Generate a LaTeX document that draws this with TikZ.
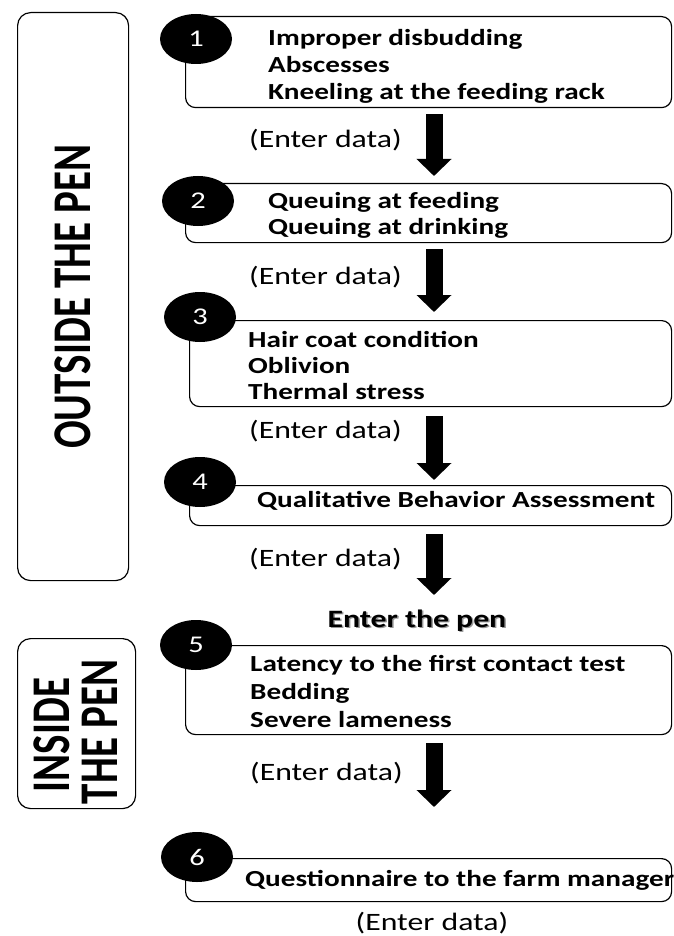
\documentclass[tikz,border=0pt]{standalone}
\usepackage{fontspec}
\setmainfont{Carlito}[FakeStretch=1.27]
\newfontfamily\sidefont{Carlito}
\usepackage{tikz}
\usetikzlibrary{arrows.meta, shapes.geometric, positioning}
\usepackage{xcolor}
\definecolor{shadowgray}{RGB}{150,150,150}

\begin{document}
\begin{tikzpicture}[
        x=1pt, y=-1pt,
        line join=round,
        stepbox/.style={draw=black, line width=1.2pt, rounded corners=10pt, fill=white, inner sep=0pt},
        sidebox/.style={draw=black, line width=1.2pt, rounded corners=13pt, inner sep=0pt},
        numdot/.style={shape=ellipse, fill=black, text=white, minimum width=72pt, minimum height=50pt, inner sep=0pt, font=\fontsize{24}{24}\selectfont},
        itemtext/.style={anchor=base west, align=left, inner sep=0pt, font=\fontsize{23}{#1}\selectfont\bfseries},
        itemtext/.default=26,
        datatext/.style={anchor=base west, inner sep=0pt, font=\fontsize{25}{25}\selectfont},
        pentext/.style={anchor=base, inner sep=0pt, font=\fontsize{25}{25}\selectfont\bfseries},
        sidelabel/.style={rotate=90, inner sep=0pt, font=\sidefont\fontsize{41}{41}\selectfont\bfseries},
        bigarrow/.style={line width=17pt, -{Triangle[width=34pt, length=17pt]}}
        ]

        \useasboundingbox (0,0) rectangle (673,936);

        %% Side boxes
        \node[sidebox, minimum width=111pt, minimum height=568pt, anchor=north west] (outside) at (17,12) {};
        \node[sidelabel] (outsidetext) at (outside.center) {\scalebox{1}[1.33]{OUTSIDE THE PEN}};
        \node[sidebox, minimum width=118pt, minimum height=170pt, anchor=north west] (inside) at (17,638) {};
        \node[sidelabel] (insidetext) at (52,735) {\scalebox{1}[1.33]{INSIDE}};
        \node[sidelabel] (thepentext) at (100,732) {\scalebox{1}[1.33]{THE PEN}};

        %% Step boxes
        \node[stepbox, minimum width=486pt, minimum height=91pt, anchor=north west] (b1) at (185,16) {};
        \node[stepbox, minimum width=486pt, minimum height=59pt, anchor=north west] (b2) at (185,183) {};
        \node[stepbox, minimum width=482pt, minimum height=86pt, anchor=north west] (b3) at (189,320) {};
        \node[stepbox, minimum width=482pt, minimum height=40pt, anchor=north west] (b4) at (189,485) {};
        \node[stepbox, minimum width=486pt, minimum height=89pt, anchor=north west] (b5) at (185,645) {};
        \node[stepbox, minimum width=486pt, minimum height=43pt, anchor=north west] (b6) at (185,858) {};

        %% Numbers
        \node[numdot] (n1) at (196,39) {1};
        \node[numdot] (n2) at (198,201) {2};
        \node[numdot] (n3) at (200,317) {3};
        \node[numdot] (n4) at (200,482) {4};
        \node[numdot] (n5) at (196,645) {5};
        \node[numdot] (n6) at (197,857) {6};

        %% Box contents
        \node[itemtext=27] (t1) at (268,100) {Improper disbudding\\Abscesses\\Kneeling at the feeding rack};
        \node[itemtext] (t2) at (268,234) {Queuing at feeding\\Queuing at drinking};
        \node[itemtext] (t3) at (248,399) {Hair coat condition\\Oblivion\\Thermal stress};
        \node[itemtext] (t4) at (257,507) {Qualitative Behavior Assessment};
        \node[itemtext=28] (t5) at (250,727) {Latency to the first contact test\\Bedding\\Severe lameness};
        \node[itemtext] (t6) at (245,886) {Questionnaire to the farm manager};

        %% Arrows
        \coordinate (ax) at (434,0);
        \draw[bigarrow, shorten <=6pt, shorten >=7pt] (b1.south -| ax) -- (b2.north -| ax);
        \draw[bigarrow, shorten <=6pt, shorten >=8pt] (b2.south -| ax) -- (b3.north -| ax);
        \draw[bigarrow, shorten <=9pt, shorten >=5pt] (b3.south -| ax) -- (b4.north -| ax);
        \draw[bigarrow, shorten <=8pt, shorten >=50pt] (b4.south -| ax) -- (b5.north -| ax);
        \draw[bigarrow, shorten <=8pt, shorten >=51pt] (b5.south -| ax) -- (b6.north -| ax);

        %% Data labels
        \node[datatext] (d1) at (249,148) {(Enter data)};
        \node[datatext] (d2) at (249,284) {(Enter data)};
        \node[datatext] (d3) at (249,438) {(Enter data)};
        \node[datatext] (d4) at (249,566) {(Enter data)};
        \node[datatext] (d5) at (250,780) {(Enter data)};
        \node[datatext, anchor=base] (d6) at (432,930) {(Enter data)};

        %% Pen entry
        \node[pentext, text=shadowgray] (penshadow) at (418.5,628.5) {Enter the pen};
        \node[pentext] (pen) at (417,627) {Enter the pen};
\end{tikzpicture}
\end{document}
